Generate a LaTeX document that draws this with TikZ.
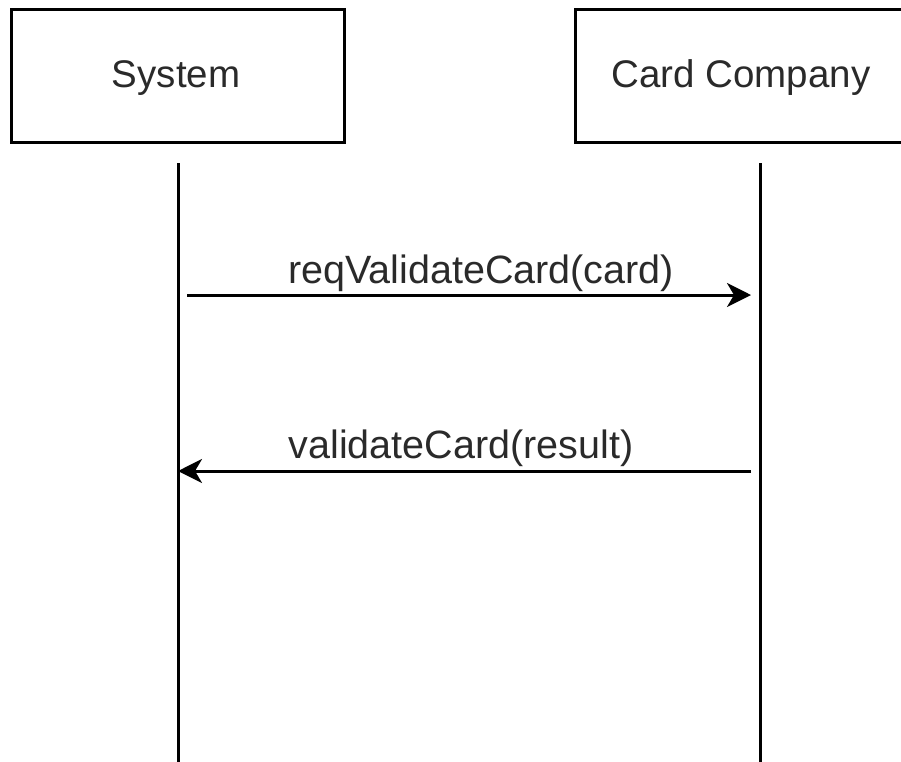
\documentclass[tikz,border=0pt]{standalone}
\usepackage{fontspec}
\setmainfont{Liberation Sans}
\usetikzlibrary{arrows.meta}
\definecolor{txt}{HTML}{2A2A2A}
\tikzset{
  actorbox/.style={draw=black, line width=3pt, fill=white},
  lbl/.style={anchor=base, text=txt, inner sep=0pt, font=\fontsize{38.5}{46}\selectfont},
  msglbl/.style={anchor=base, text=txt, inner sep=0pt, font=\fontsize{39.5}{47}\selectfont},
  lifeline/.style={draw=black, line width=3pt},
  msg/.style={draw=black, line width=3pt, -{Stealth[length=24pt, width=24pt, inset=7pt]}}
}
\begin{document}
\begin{tikzpicture}[x=1pt,y=-1pt]
\clip (0,0) rectangle (901,761);
\fill[white] (0,0) rectangle (901,761);
% actor boxes
\path[actorbox] (11,9) rectangle (344,142);
\path[actorbox] (575,9) rectangle (910,142);
\node[lbl] (sys) at (176,87) {System};
\node[lbl] (cc) at (741,87) {Card Company};
% lifelines
\coordinate (sysTop) at (178,163);
\coordinate (sysBot) at (178,763);
\coordinate (ccTop) at (760,163);
\coordinate (ccBot) at (760,763);
\draw[lifeline] (sysTop) -- (sysBot);
\draw[lifeline] (ccTop) -- (ccBot);
% messages
\coordinate (m1s) at (187,295);
\coordinate (m1e) at (751,295);
\coordinate (m2s) at (751,471);
\coordinate (m2e) at (178,471);
\draw[msg] (m1s) -- (m1e);
\draw[msg] (m2s) -- (m2e);
\node[msglbl] (l1) at (481,283) {reqValidateCard(card)};
\node[msglbl] (l2) at (461,458) {validateCard(result)};
\end{tikzpicture}
\end{document}
